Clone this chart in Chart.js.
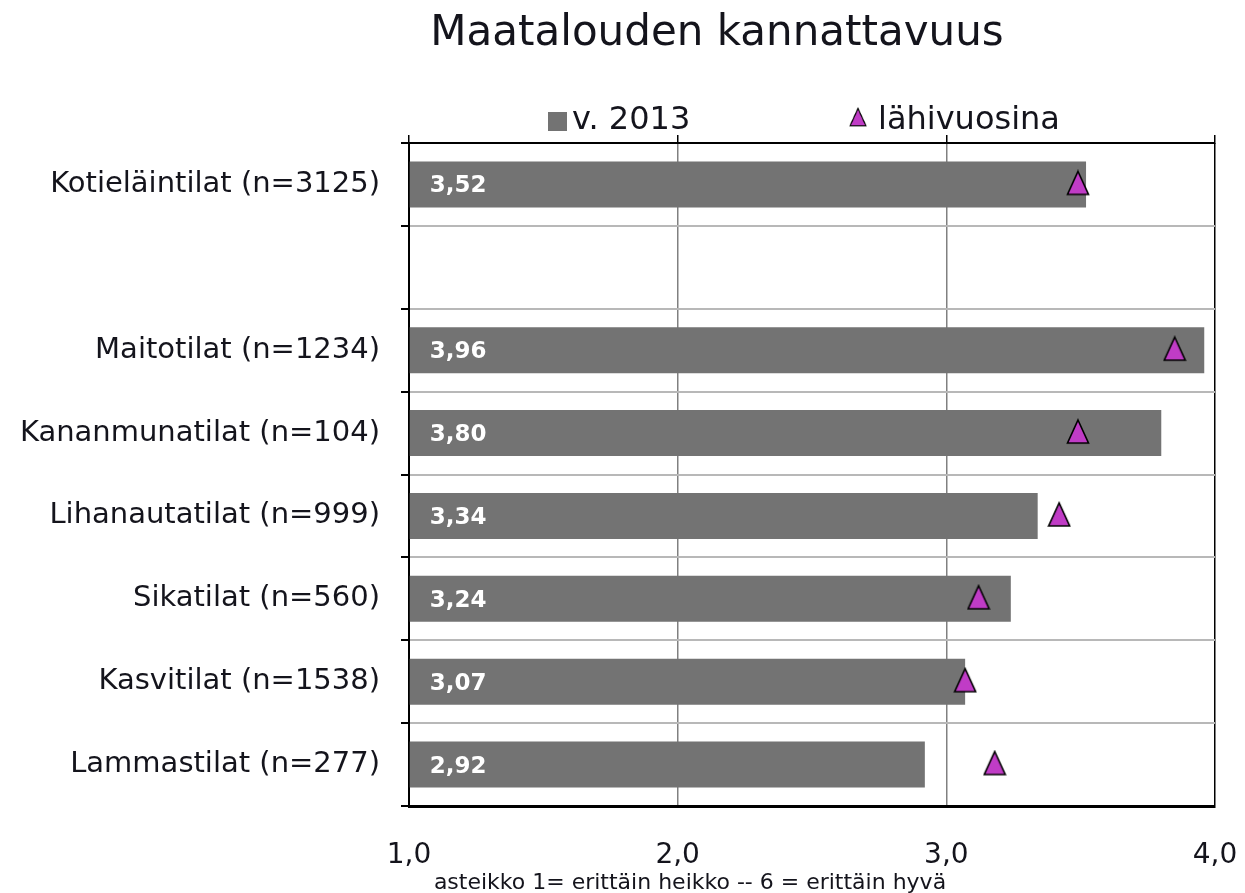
<!DOCTYPE html>
<html>
<head>
<meta charset="utf-8">
<script src="https://cdn.jsdelivr.net/npm/chart.js@4.4.1/dist/chart.umd.min.js"></script>
<style>
  html, body { margin: 0; padding: 0; background: #fff; }
  #wrap { width: 1245px; height: 893px; position: relative; }
</style>
</head>
<body>
<div id="wrap"><canvas id="chart"></canvas></div>
<script>
// data
const categories = [
    "Kotieläintilat (n=3125)", "",
    "Maitotilat (n=1234)", "Kananmunatilat (n=104)", "Lihanautatilat (n=999)",
    "Sikatilat (n=560)", "Kasvitilat (n=1538)", "Lammastilat (n=277)"
];
const values2013 = [3.52, null, 3.96, 3.80, 3.34, 3.24, 3.07, 2.92];
const valuesComing = [3.49, null, 3.85, 3.49, 3.42, 3.12, 3.07, 3.18];
const seriesNames = ["v. 2013", "lähivuosina"];
const axisMin = 1, axisMax = 4, axisStep = 1;
const chartTitle = "Maatalouden kannattavuus";
const axisCaption = "asteikko 1= erittäin heikko -- 6 = erittäin hyvä";

const FONT = "'DejaVu Sans', Verdana, sans-serif";
const TEXT = "#14141c";
const BAR_COLOR = "#737373";
const TRI_COLOR = "#c03cc6";
const comma = (v, d) => v.toFixed(d).replace(".", ",");

// tall triangle used as point style
const triangle = document.createElement("canvas");
triangle.width = 24;
triangle.height = 30;
(() => {
    const t = triangle.getContext("2d");
    t.beginPath();
    t.moveTo(12, 2);
    t.lineTo(22.5, 25);
    t.lineTo(1.5, 25);
    t.closePath();
    t.fillStyle = TRI_COLOR;
    t.fill();
    t.lineWidth = 1.6;
    t.strokeStyle = "#000";
    t.stroke();
})();

const decor = {
    id: "decor",
    afterDatasetsDraw(chart) {
        const ctx = chart.ctx;
        const meta = chart.getDatasetMeta(0);
        ctx.save();
        ctx.font = "bold 23px " + FONT;
        ctx.fillStyle = "#fff";
        ctx.textAlign = "left";
        ctx.textBaseline = "middle";
        meta.data.forEach((bar, i) => {
            const v = values2013[i];
            if (v == null) return;
            ctx.fillText(comma(v, 2), bar.base + 20, bar.y + 2);
        });
        ctx.restore();
    },
    afterDraw(chart) {
        const ctx = chart.ctx;
        ctx.save();
        ctx.fillStyle = TEXT;
        ctx.textBaseline = "middle";

        // title
        ctx.font = "42px " + FONT;
        ctx.textAlign = "center";
        ctx.fillText(chartTitle, 717, 34);

        // legend
        ctx.font = "32px " + FONT;
        ctx.textAlign = "left";
        ctx.fillStyle = BAR_COLOR;
        ctx.fillRect(548, 112, 19, 19);
        ctx.fillStyle = TEXT;
        ctx.fillText(seriesNames[0], 572, 121);
        ctx.drawImage(triangle, 849, 107, 18, 22.5);
        ctx.fillText(seriesNames[1], 878, 121);

        // caption under the axis
        ctx.font = "22px " + FONT;
        ctx.textAlign = "center";
        ctx.fillText(axisCaption, 690, 883);
        ctx.restore();
    }
};

new Chart(document.getElementById("chart"), {
    type: "bar",
    data: {
        labels: categories,
        datasets: [
            {
                type: "bar",
                label: seriesNames[0],
                data: values2013,
                backgroundColor: BAR_COLOR,
                base: axisMin,
                barPercentage: 0.555,
                categoryPercentage: 1,
                order: 1,
            },
            {
                type: "line",
                label: seriesNames[1],
                data: valuesComing,
                showLine: false,
                pointStyle: triangle,
                pointRadius: 12,
                order: 0,
            },
        ],
    },
    options: {
        indexAxis: "y",
        responsive: true,
        maintainAspectRatio: false,
        animation: false,
        layout: { padding: { left: 0, right: 30, top: 135, bottom: 0 } },
        plugins: {
            legend: { display: false },
            tooltip: { enabled: false },
        },
        scales: {
            x: {
                type: "linear",
                position: "bottom",
                min: axisMin,
                max: axisMax,
                ticks: {
                    stepSize: axisStep,
                    callback: (v) => comma(v, 1),
                    color: TEXT,
                    font: { family: FONT, size: 28 },
                    padding: 0,
                },
                grid: {
                    color: (c) => (c.tick && (c.tick.value === 2 || c.tick.value === 3) ? "#808080" : "#000"),
                    lineWidth: 1.5,
                    drawTicks: true,
                    tickLength: 33,
                    tickColor: "rgba(0,0,0,0)",
                },
                border: { color: "#000", width: 3 },
                afterFit: (s) => { s.height = 87; },
            },
            x2: {
                type: "linear",
                position: "top",
                min: axisMin,
                max: axisMax,
                ticks: { display: false, stepSize: axisStep, padding: 0 },
                grid: { drawOnChartArea: false, tickLength: 8, color: "#000", lineWidth: 1.5 },
                border: { color: "#000", width: 2 },
                afterFit: (s) => { s.height = 8; },
            },
            y: {
                type: "category",
                position: "left",
                ticks: {
                    color: TEXT,
                    font: { family: FONT, size: 29 },
                    padding: 21,
                },
                grid: {
                    offset: true,
                    color: "#b8b8b8",
                    lineWidth: 2,
                    tickLength: 8,
                    tickColor: "#000",
                },
                border: { color: "#000", width: 2 },
                afterFit: (s) => { s.width = 409; },
            },
        },
    },
    plugins: [decor],
});
</script>
</body>
</html>
